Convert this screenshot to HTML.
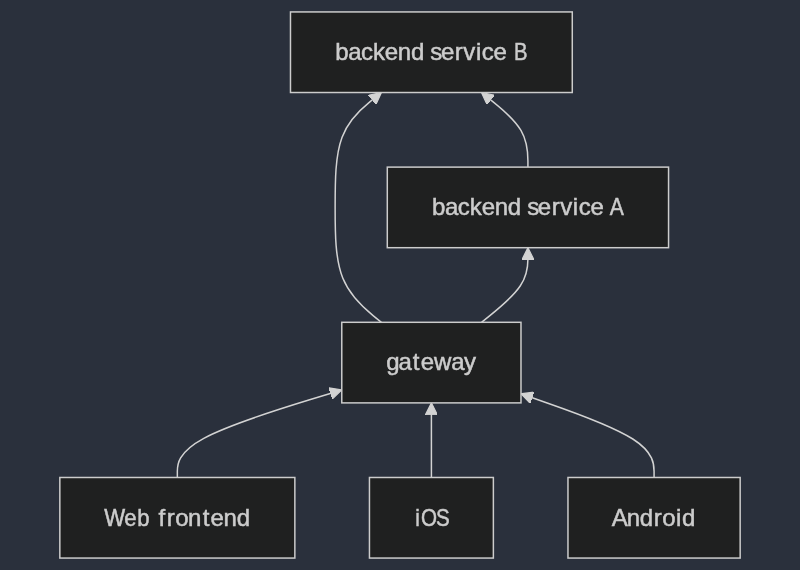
<!DOCTYPE html>
<html><head><meta charset="utf-8"><title>diagram</title>
<style>
html,body{margin:0;padding:0;background:#2a303c;}
body{width:800px;height:570px;overflow:hidden;}
svg{display:block;will-change:transform;}
.lbl text{font-family:"Liberation Sans",sans-serif;font-size:24px;fill:#cccccc;stroke:#cccccc;stroke-width:0.5px;}
</style></head><body>
<svg width="800" height="570" viewBox="0 0 800 570">
<defs><marker id="pe" viewBox="0 0 10 10" refX="5" refY="5" markerUnits="userSpaceOnUse" markerWidth="8" markerHeight="8" orient="auto"><path d="M 0 0 L 10 5 L 0 10 z" fill="#d3d3d3" stroke="#d3d3d3" stroke-width="1"/></marker></defs>
<g transform="translate(47.898,0) scale(1.49215)">
<g fill="none" stroke="#d3d3d3" stroke-width="1">
<path d="M86.75,320L86.75,315.833C86.75,311.667,86.75,303.333,104.479,293.752C122.208,284.17,157.666,273.34,175.395,267.925L193.124,262.51" marker-end="url(#pe)"/>
<path d="M257.02,320L257.02,315.833C257.02,311.667,257.02,303.333,257.019,295.667C257.017,288,257.015,281,257.013,277.5L257.012,274" marker-end="url(#pe)"/>
<path d="M406.24,320L406.24,315.833C406.24,311.667,406.24,303.333,392.005,294.207C377.769,285.08,349.298,275.16,335.063,270.2L320.827,265.239" marker-end="url(#pe)"/>
<path d="M290.594,216L295.779,211.833C300.963,207.667,311.331,199.333,316.516,191.667C321.7,184,321.7,177,321.7,173.5L321.7,170" marker-end="url(#pe)"/>
<path d="M321.7,112L321.7,107.833C321.7,103.667,321.7,95.333,317.035,87.418C312.371,79.502,303.041,72.004,298.377,68.255L293.712,64.506" marker-end="url(#pe)"/>
<path d="M223.51,216L218.341,211.833C213.173,207.667,202.837,199.333,197.668,186.5C192.5,173.667,192.5,156.333,192.5,139C192.5,121.667,192.5,104.333,197.149,91.918C201.799,79.504,211.097,72.007,215.746,68.259L220.396,64.511" marker-end="url(#pe)"/>
</g>
<g fill="#1f2020" stroke="#cccccc" stroke-width="1">
<rect x="162.57" y="8.00" width="188.85" height="54.00"/>
<rect x="227.45" y="112.00" width="188.50" height="54.00"/>
<rect x="196.95" y="216.00" width="120.10" height="54.00"/>
<rect x="8.00" y="320.00" width="157.50" height="54.00"/>
<rect x="215.50" y="320.00" width="83.04" height="54.00"/>
<rect x="348.54" y="320.00" width="115.40" height="54.00"/>
</g>
</g>
<g class="lbl">
<text y="60.08"><tspan x="335.25 348.16 361.01 372.94 384.79 397.81 410.98">backend</tspan> <tspan x="430.32 440.99 454.82 463.30 475.89 481.87 493.61">service</tspan> <tspan x="513.97" textLength="13.51" lengthAdjust="spacingAndGlyphs">B</tspan></text>
<text y="215.26"><tspan x="432.10 445.02 457.87 469.80 481.64 494.67 507.83">backend</tspan> <tspan x="527.18 537.84 551.67 560.16 572.74 578.72 590.46">service</tspan> <tspan x="609.63" textLength="14.09" lengthAdjust="spacingAndGlyphs">A</tspan></text>
<text y="370.44"><tspan x="386.17 398.43 412.77 420.66 434.05 451.19 464.02">gateway</tspan></text>
<text y="525.62"><tspan x="104.32 124.16 137.32" textLength="45.52" lengthAdjust="spacingAndGlyphs">Web</tspan> <tspan x="158.39 166.79 175.16 188.09 202.68 210.57 223.59 236.76">frontend</tspan></text>
<text y="525.62"><tspan x="415.33 421.05 435.98" textLength="34.38" lengthAdjust="spacingAndGlyphs">iOS</tspan></text>
<text y="525.62"><tspan x="611.79 626.68 639.85 653.82 662.20 676.02 682.06">Android</tspan></text>
</g>
</svg>
</body></html>
